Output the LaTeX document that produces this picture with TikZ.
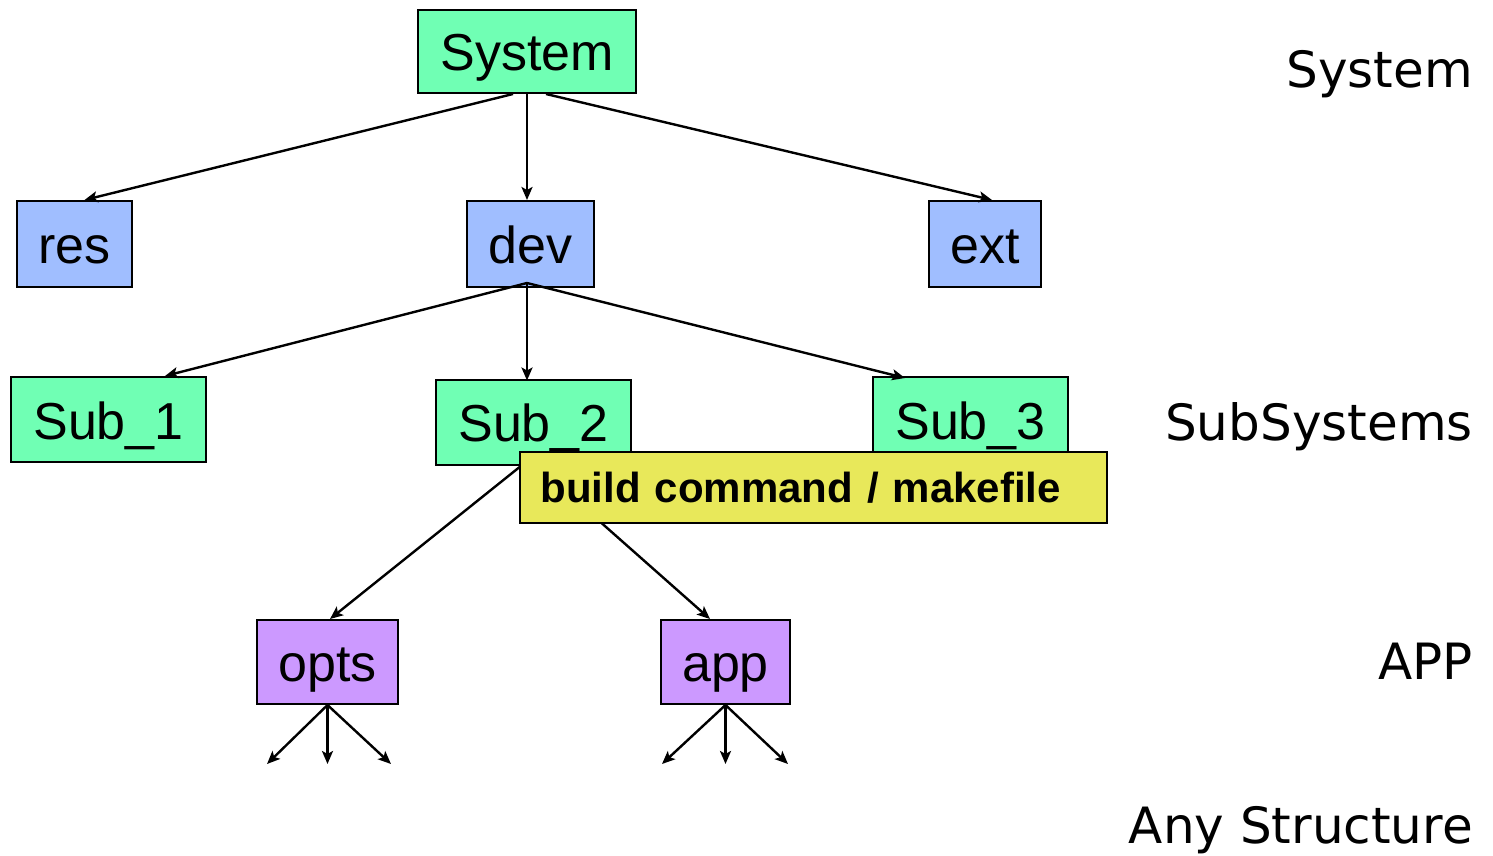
\documentclass[tikz,border=0pt]{standalone}
\usepackage{fontspec}
\setmainfont{Liberation Sans}
\newfontfamily\labfont{DejaVu Sans}
\usetikzlibrary{arrows.meta}
\definecolor{boxgreen}{RGB}{112,255,180}
\definecolor{boxblue}{RGB}{160,190,255}
\definecolor{boxpurple}{RGB}{204,153,255}
\definecolor{boxyellow}{RGB}{232,232,90}
\tikzset{
  box/.style={draw=black, line width=2pt, inner sep=0pt, text height=39pt, text depth=0pt,
              font=\fontsize{52}{60}\selectfont},
  gbox/.style={box, fill=boxgreen},
  bbox/.style={box, fill=boxblue},
  pbox/.style={box, fill=boxpurple},
  arr/.style={line width=2.4pt, -{Stealth[length=13pt,width=11pt,inset=3pt]}},
  lvl/.style={anchor=base east, inner sep=0pt, font=\labfont\fontsize{50}{60}\selectfont},
}
\begin{document}
\begin{tikzpicture}[x=1pt,y=-1pt]
\useasboundingbox (0,0) rectangle (1493,856);
% nodes
\node[gbox, minimum width=218pt, minimum height=83pt] (sys) at (527,51.5) {System};
\node[bbox, minimum width=115pt, minimum height=86pt] (res) at (74.5,244) {res};
\node[bbox, minimum width=127pt, minimum height=86pt] (dev) at (530.5,244) {dev};
\node[bbox, minimum width=112pt, minimum height=86pt] (ext) at (985,244) {ext};
\node[gbox, minimum width=195pt, minimum height=85pt] (sub1) at (108.5,419.5) {Sub\_1};
\node[gbox, minimum width=195pt, minimum height=85pt] (sub2) at (533.5,422) {Sub\_2};
\node[gbox, minimum width=195pt, minimum height=85pt] (sub3) at (970.5,419.5) {Sub\_3};
\node[pbox, minimum width=141pt, minimum height=84pt] (opts) at (327.5,662) {opts};
\node[pbox, minimum width=129pt, minimum height=84pt] (app) at (725.5,662) {app};
% connectors
\draw[arr] ([xshift=-14pt]sys.south) -- ([xshift=10pt]res.north);
\draw[arr] (sys.south) -- ([xshift=-3.5pt]dev.north);
\draw[arr] ([xshift=19pt]sys.south) -- ([xshift=7pt]ext.north);
\coordinate (devhub) at ([xshift=-3.5pt,yshift=5pt]dev.south);
\draw[arr] (devhub) -- ([xshift=56.5pt]sub1.north);
\draw[arr] (devhub) -- ([xshift=-6.5pt,yshift=-2pt]sub2.north);
\draw[arr] (devhub) -- ([xshift=-65.5pt,yshift=-2pt]sub3.north);
\draw[arr] ([xshift=-12pt]sub2.south) -- ([xshift=2.5pt]opts.north);
\draw[arr] ([xshift=3pt]sub2.south) -- ([xshift=-15.5pt]app.north);
% children of opts and app
\coordinate (o1) at (267,764);
\coordinate (o2) at (327.5,764);
\coordinate (o3) at (391,764);
\coordinate (a1) at (662,764);
\coordinate (a2) at (725.5,764);
\coordinate (a3) at (788,764);
\foreach \c in {o1,o2,o3} \draw[arr] (opts.south) -- (\c);
\foreach \c in {a1,a2,a3} \draw[arr] (app.south) -- (\c);
% yellow box
\node[draw=black, line width=2pt, fill=boxyellow, minimum height=71pt, text width=546pt,
      inner xsep=20.5pt, inner ysep=0pt, text height=30pt, text depth=0pt, align=left,
      font=\fontsize{42}{50}\selectfont\bfseries] (build) at (813.5,487.5) {build command / makefile};
% level labels
\node[lvl] (l1) at (1473,88) {System};
\node[lvl] (l2) at (1473,440) {SubSystems};
\node[lvl] (l3) at (1473,679) {APP};
\node[lvl] (l4) at (1473,843) {Any Structure};
\end{tikzpicture}
\end{document}
